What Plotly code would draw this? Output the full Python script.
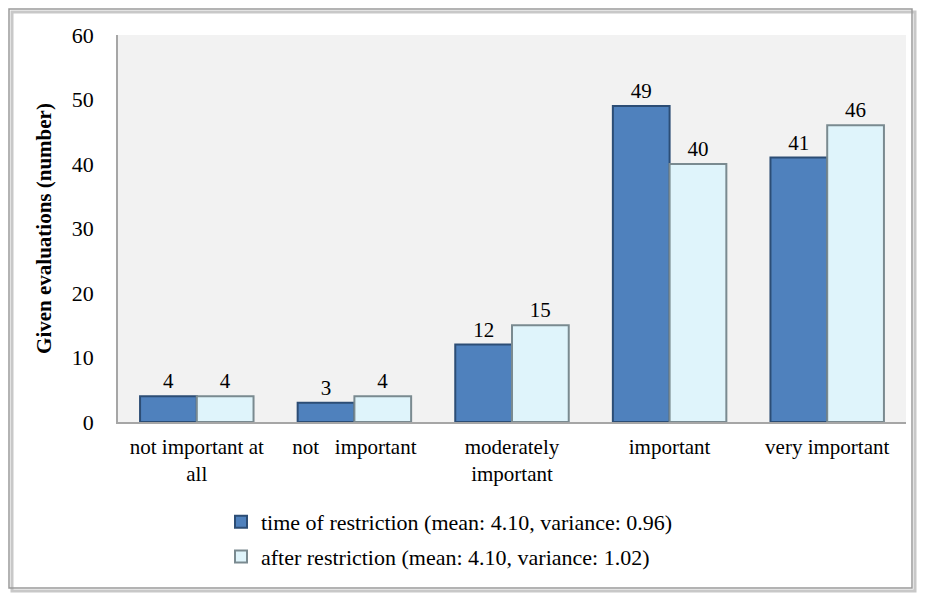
import plotly.graph_objects as go

categories = ["not important at<br>all", "not   important", "moderately<br>important", "important", "very important"]
time_of_restriction = [4, 3, 12, 49, 41]
after_restriction = [4, 4, 15, 40, 46]
series_names = ["time of restriction (mean: 4.10, variance: 0.96)",
                "after restriction (mean: 4.10, variance: 1.02)"]
y_ticks = [0, 10, 20, 30, 40, 50, 60]

FONT = "Liberation Serif, Times New Roman, serif"
W, H = 925, 598
OFF = 8  # page body margin
# desired screen coordinates of plot area
SX0, SX1, SY0, SY1 = 118, 906, 35, 422
L, R, T, B = SX0 - OFF, W - (SX1 - OFF), SY0 - OFF, H - (SY1 - OFF)
pw, ph = W - L - R, H - T - B

def px_x(p):
    return (p - OFF - L) / pw

def px_y(p):
    return (H - B - (p - OFF)) / ph

fig = go.Figure()
fig.add_trace(go.Bar(
    x=categories, y=time_of_restriction, name=series_names[0],
    marker=dict(color="#4f81bd", line=dict(color="#2c4d75", width=2)),
    text=time_of_restriction, textposition="outside",
    textfont=dict(family=FONT, size=21, color="#000"),
    cliponaxis=False, legendgroup="a",
))
fig.add_trace(go.Bar(
    x=categories, y=after_restriction, name=series_names[1],
    marker=dict(color="#dff4fb", line=dict(color="#7a8a90", width=2)),
    text=after_restriction, textposition="outside",
    textfont=dict(family=FONT, size=21, color="#000"),
    cliponaxis=False, legendgroup="b",
))

fig.update_layout(
    width=W, height=H,
    margin=dict(l=L, r=R, t=T, b=B),
    paper_bgcolor="white",
    plot_bgcolor="#f2f2f2",
    barmode="group",
    bargap=0.28,
    bargroupgap=0,
    font=dict(family=FONT, size=21, color="#000"),
    showlegend=True,
    legend=dict(
        orientation="v", x=px_x(221), y=px_y(501), xanchor="left", yanchor="top",
        font=dict(family=FONT, size=22, color="#000"),
        tracegroupgap=3, bgcolor="rgba(0,0,0,0)",
    ),
    xaxis=dict(
        showline=True, linecolor="#a6a6a6", linewidth=1.5,
        ticks="", tickfont=dict(family=FONT, size=21),
        ticklabelstandoff=5,
    ),
    yaxis=dict(
        range=[0, 60], tickvals=y_ticks, showgrid=False, zeroline=False,
        showline=True, linecolor="#a6a6a6", linewidth=1.5,
        ticks="", tickfont=dict(family=FONT, size=22),
        ticklabelstandoff=18,
        title=dict(text="<b>Given evaluations (number)</b>",
                   font=dict(family=FONT, size=21), standoff=14),
    ),
    shapes=[
        dict(type="rect", xref="paper", yref="paper",
             x0=px_x(12), x1=px_x(915), y0=px_y(591), y1=px_y(12),
             line=dict(color="#c8c8c8", width=3), layer="below"),
        dict(type="rect", xref="paper", yref="paper",
             x0=px_x(9), x1=px_x(912), y0=px_y(588), y1=px_y(9),
             line=dict(color="#9a9a9a", width=1.5), layer="below"),
    ],
)

fig.write_html("out.html")
